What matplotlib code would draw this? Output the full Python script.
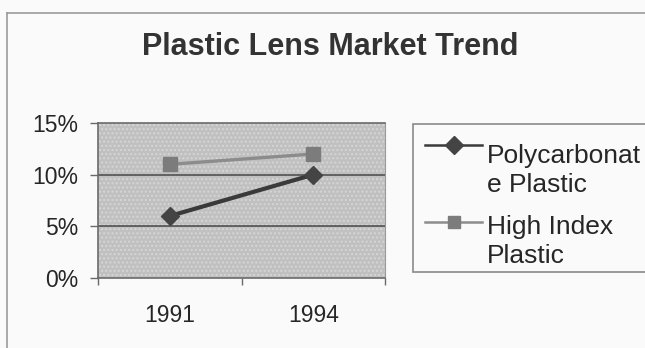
import numpy as np
import matplotlib
matplotlib.use("Agg")
import matplotlib.pyplot as plt
from matplotlib.lines import Line2D
from matplotlib.patches import Rectangle
from matplotlib.ticker import FixedLocator, PercentFormatter

plt.rcParams['font.family'] = ['Liberation Sans', 'DejaVu Sans']

years = ["1991", "1994"]
series_names = ["Polycarbonate Plastic", "High Index Plastic"]
legend_labels = ["Polycarbonat\ne Plastic", "High Index\nPlastic"]
polycarbonate = [6, 10]
high_index = [11, 12]
y_ticks = [0, 5, 10, 15]

W, H = 645, 348
fig = plt.figure(figsize=(W / 100, H / 100), dpi=100)
fig.patch.set_facecolor("#fafafa")

# outer chart border (only top/left visible in the scan)
fig.add_artist(Line2D([7 / W, 7 / W], [0, 1 - 13 / H], transform=fig.transFigure,
                      color="#9a9a9a", lw=1.2))
fig.add_artist(Line2D([7 / W, 1], [1 - 13 / H, 1 - 13 / H], transform=fig.transFigure,
                      color="#9a9a9a", lw=1.2))

fig.text(330 / W, 1 - 55 / H, "Plastic Lens Market Trend", ha="center", va="baseline",
         fontsize=22, fontweight="bold", color="#333333")

ax = fig.add_axes([98 / W, 1 - 278 / H, 287 / W, 155 / H])
ax.set_facecolor("#c0c0c0")
ax.patch.set_hatch("....")
ax.patch.set_edgecolor("#d6d6d6")

x = np.arange(len(years))
colors = ["#3a3a3a", "#8c8c8c"]
mcolors = ["#444444", "#7c7c7c"]
markers = ["D", "s"]
widths = [3.0, 2.4]
for vals, c, mc, m, w in zip([polycarbonate, high_index], colors, mcolors, markers, widths):
    ax.plot(x, vals, color=c, lw=w, marker=m, ms=10 if m == "s" else 9.5,
            markerfacecolor=mc, markeredgecolor=mc, zorder=3)

ax.set_xlim(-0.5, len(years) - 0.5)
ax.set_ylim(0, 15)
ax.set_yticks(y_ticks)
ax.yaxis.set_major_formatter(PercentFormatter(decimals=0))
ax.set_xticks(x)
ax.set_xticklabels(years)
ax.xaxis.set_minor_locator(FixedLocator(np.arange(-0.5, len(years), 1.0)))
for yv in y_ticks[1:-1]:
    ax.axhline(yv, color="#505050", lw=1.2, zorder=2)

for side in ["left", "bottom", "top"]:
    ax.spines[side].set_color("#6a6a6a")
    ax.spines[side].set_linewidth(1.2)
ax.spines["right"].set_color("#9a9a9a")
ax.tick_params(axis="y", length=6, width=1, color="#6a6a6a", pad=8,
               labelsize=16.5, labelcolor="#262626")
ax.tick_params(axis="x", which="major", length=0, pad=19, labelsize=16.5,
               labelcolor="#262626")
ax.tick_params(axis="x", which="minor", length=5, width=1, color="#6a6a6a")

# legend box, drawn by hand so the handle sits on the first text line
fig.add_artist(Rectangle((413 / W, 1 - 272 / H), 320 / W, 148 / H,
                         transform=fig.transFigure, facecolor="#fafafa",
                         edgecolor="#8a8a8a", lw=1.2))
handle_rows = [145, 222]
last_baselines = [192, 263]
for label, c, mc, m, yr, yb in zip(legend_labels, colors, mcolors, markers,
                                   handle_rows, last_baselines):
    yf = 1 - yr / H
    fig.add_artist(Line2D([425 / W, 482 / W], [yf, yf], transform=fig.transFigure,
                          color=c, lw=1.8))
    fig.add_artist(Line2D([453.5 / W], [yf], transform=fig.transFigure, marker=m,
                          ms=9, color=mc, lw=0))
    fig.text(487 / W, 1 - yb / H, label, ha="left", va="baseline", fontsize=19,
             color="#262626", linespacing=1.25, transform=fig.transFigure)

fig.savefig("out.png", dpi=100, facecolor=fig.get_facecolor())
